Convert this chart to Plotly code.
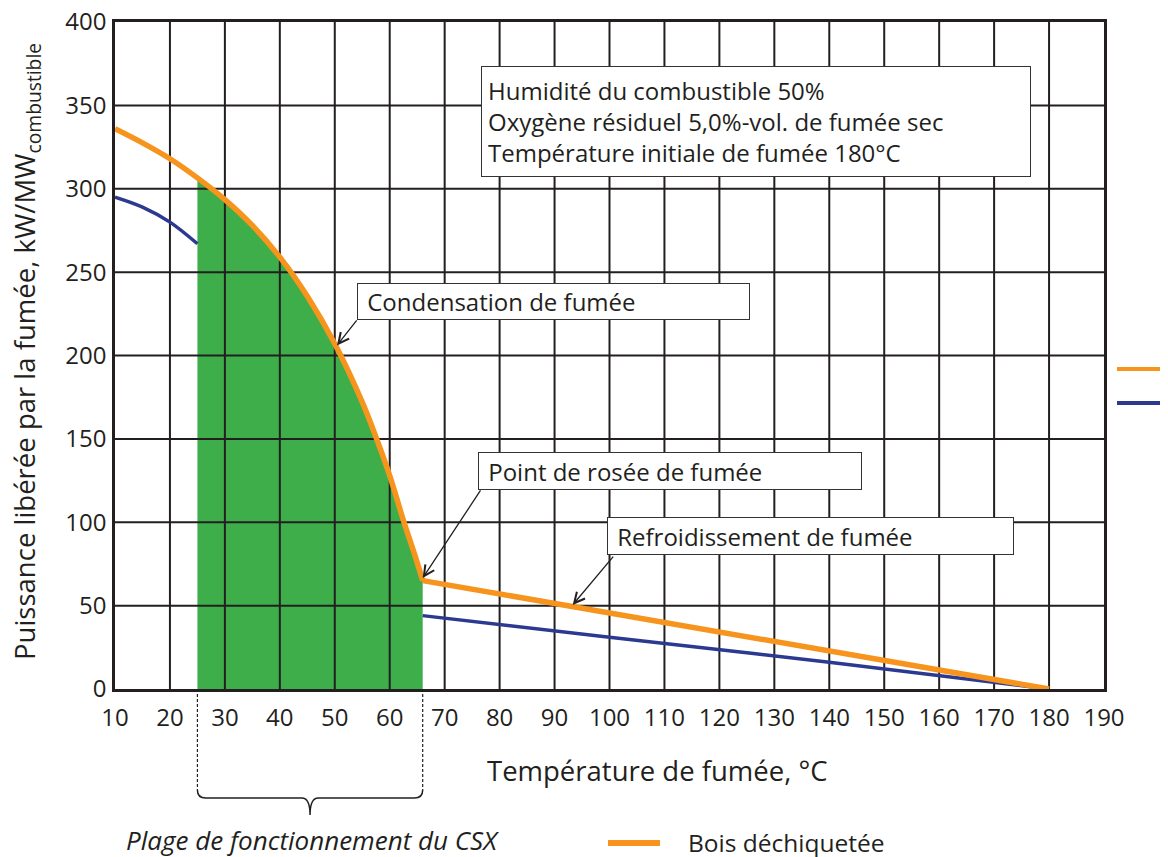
import plotly.graph_objects as go

# ---- data ----
x_ticks = [10, 20, 30, 40, 50, 60, 70, 80, 90, 100, 110, 120, 130, 140, 150, 160, 170, 180, 190]
y_ticks = [0, 50, 100, 150, 200, 250, 300, 350, 400]

# Bois déchiquetée (orange)
temp_orange = [10, 15, 20, 25, 30, 35, 40, 45, 50, 55, 57.5, 60, 62.5, 64.5, 66, 180]
power_orange = [336, 327.5, 318, 306.5, 293.5, 278, 259, 235.5, 207, 172, 151, 128, 101, 81, 65, 0]
dew_point_temp = 66

# second fuel (blue) – hidden behind the green area between 25 and 66 °C
temp_blue = [10, 15, 20, 25, None, 66, 100, 140, 180]
power_blue = [295, 289, 280, 267, None, 44, 31, 16, 0]

csx_range = [25, 66]

ORANGE = "#F7941D"
BLUE = "#2B3990"
GREEN = "#3DAE4A"
INK = "#231F20"
FONT = "Open Sans"

# page offset compensation (html body margin)
OFF = 8
W, H = 1168 - OFF, 857 - OFF
PL, PR, PT, PB = 115 - OFF, 1104 - OFF, 22 - OFF, 689 - OFF  # plot area in figure pixels


def px(x_page):
    return (x_page - OFF - PL) / (PR - PL)


def py(y_page):
    return (PB - (y_page - OFF)) / (PB - PT)


fig = go.Figure()

# green operating area under orange curve
fx = [t for t in temp_orange if csx_range[0] <= t <= csx_range[1]]
fy = [p for t, p in zip(temp_orange, power_orange) if csx_range[0] <= t <= csx_range[1]]
fig.add_trace(go.Scatter(x=fx, y=fy, mode="lines", line=dict(width=0, shape="spline", color=GREEN),
                         fill="tozeroy", fillcolor=GREEN, hoverinfo="skip", showlegend=False))

# grid drawn above the fill
gx, gy = [], []
for t in x_ticks[1:-1]:
    gx += [t, t, None]
    gy += [y_ticks[0], y_ticks[-1], None]
for v in y_ticks[1:-1]:
    gx += [x_ticks[0], x_ticks[-1], None]
    gy += [v, v, None]
fig.add_trace(go.Scatter(x=gx, y=gy, mode="lines", line=dict(color=INK, width=2),
                         hoverinfo="skip", showlegend=False))

# blue curve
fig.add_trace(go.Scatter(x=temp_blue, y=power_blue, mode="lines",
                         line=dict(color=BLUE, width=3.5, shape="spline"),
                         connectgaps=False, showlegend=False))

# orange curve: condensation part (smooth) + cooling part (straight)
i_dp = temp_orange.index(dew_point_temp)
fig.add_trace(go.Scatter(x=temp_orange[:i_dp + 1], y=power_orange[:i_dp + 1], mode="lines",
                         line=dict(color=ORANGE, width=5.5, shape="spline"),
                         name="Bois déchiquetée", showlegend=False))
fig.add_trace(go.Scatter(x=temp_orange[i_dp:], y=power_orange[i_dp:], mode="lines",
                         line=dict(color=ORANGE, width=5.5), showlegend=False))

# ---- boxes ----
box_font = dict(family=FONT, size=24, color=INK)
annotations = []


def box(text, x, y, w, h, pad=3):
    annotations.append(dict(text=text, x=x, y=y, xref="x", yref="y", xanchor="left", yanchor="top",
                            showarrow=False, align="left", valign="middle", width=w, height=h,
                            bgcolor="white", bordercolor="#333333", borderwidth=1, borderpad=pad,
                            font=box_font))


box("Humidité du combustible 50%<br>Oxygène résiduel 5,0%-vol. de fumée sec<br>Température initiale de fumée 180°C",
    76.55, 373.6, 536, 97, pad=6)
box("\u00a0Condensation de fumée", 54.0, 243.5, 385, 29)
box("\u00a0Point de rosée de fumée", 76.0, 142.1, 376, 30)
box("\u00a0Refroidissement de fumée", 99.6, 103.1, 399, 30)


def arrow(tip, tail):
    annotations.append(dict(text="", x=tip[0], y=tip[1], ax=tail[0], ay=tail[1], xref="x", yref="y",
                            axref="x", ayref="y", showarrow=True, arrowhead=5, arrowsize=1.6,
                            arrowwidth=1.3, arrowcolor=INK))


arrow((50.4, 206), (54.2, 222))
arrow((66.0, 66.5), (76.7, 120))
arrow((93.3, 50.4), (100.9, 80.3))

# axis titles
annotations.append(dict(text="Température de fumée, °C", x=px(657), y=py(770), xref="paper", yref="paper",
                        showarrow=False, xanchor="center", yanchor="middle",
                        font=dict(family=FONT, size=27.5, color=INK)))
annotations.append(dict(text="Puissance libérée par la fumée, kW/MW<sub>combustible</sub>",
                        x=px(27), y=py(352), xref="paper", yref="paper", textangle=-90,
                        showarrow=False, xanchor="center", yanchor="middle",
                        font=dict(family=FONT, size=27.5, color=INK)))
# brace caption
annotations.append(dict(text="<i>Plage de fonctionnement du CSX</i>", x=px(312), y=py(840),
                        xref="paper", yref="paper", showarrow=False, xanchor="center", yanchor="middle",
                        font=dict(family=FONT, size=26, color=INK)))
# legend text
annotations.append(dict(text="Bois déchiquetée", x=px(686), y=py(842), xref="paper", yref="paper",
                        showarrow=False, xanchor="left", yanchor="middle",
                        font=dict(family=FONT, size=24.5, color=INK)))

shapes = []
ya, yb, yc = py(790), py(798), py(815)
for t in csx_range:
    shapes.append(dict(type="line", xref="x", yref="paper", x0=t, x1=t, y0=0, y1=ya,
                       line=dict(color=INK, width=1.2, dash="3px,2px")))
a, b = csx_range
m = (a + b) / 2
shapes.append(dict(type="path", xref="x", yref="paper",
                   path=(f"M {a},{ya} Q {a},{yb} {a+1.5},{yb} L {m-1.5},{yb} Q {m},{yb} {m},{yc} "
                         f"Q {m},{yb} {m+1.5},{yb} L {b-1.5},{yb} Q {b},{yb} {b},{ya}"),
                   line=dict(color=INK, width=1.5)))
# legend samples
shapes.append(dict(type="line", xref="paper", yref="paper", x0=px(608), x1=px(660), y0=py(843), y1=py(843),
                   line=dict(color=ORANGE, width=6)))
shapes.append(dict(type="line", xref="paper", yref="paper", x0=px(1117), x1=px(1168), y0=py(369), y1=py(369),
                   line=dict(color=ORANGE, width=4)))
shapes.append(dict(type="line", xref="paper", yref="paper", x0=px(1117), x1=px(1168), y0=py(403), y1=py(403),
                   line=dict(color=BLUE, width=4)))

axis_common = dict(showgrid=False, zeroline=False, showline=True, mirror=True, linecolor=INK,
                   linewidth=2.5, ticks="", automargin=False, ticklabeloverflow="allow",
                   tickfont=dict(family=FONT, size=24, color=INK))
fig.update_layout(
    width=W, height=H,
    margin=dict(l=PL, r=W - PR, t=PT, b=H - PB, pad=0, autoexpand=False),
    paper_bgcolor="white", plot_bgcolor="white",
    font=dict(family=FONT, color=INK),
    xaxis=dict(range=[x_ticks[0], x_ticks[-1]], tickvals=x_ticks, ticklabelstandoff=5, **axis_common),
    yaxis=dict(range=[y_ticks[0], y_ticks[-1]], tickvals=y_ticks, ticklabelstandoff=1, **axis_common),
    annotations=annotations, shapes=shapes, showlegend=False,
)

fig.write_html("out.html")
